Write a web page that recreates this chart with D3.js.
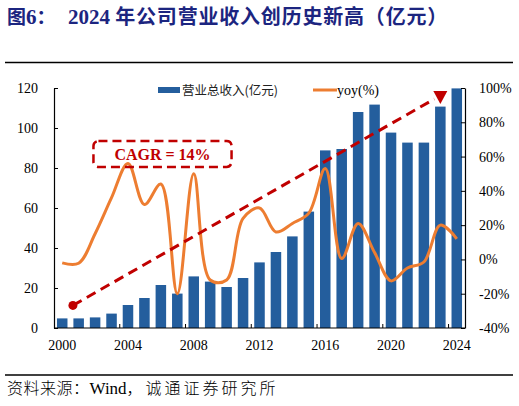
<!DOCTYPE html>
<html>
<head>
<meta charset="utf-8">
<script src="https://cdn.jsdelivr.net/npm/d3@7"></script>
<style>
  body { margin: 0; background: #fff; }
  svg { display: block; }
</style>
</head>
<body>
<div id="chart"></div>
<script>
// data
var years = d3.range(2000, 2025);
var revenue = [4.8, 4.8, 5.3, 7.2, 11.5, 15, 21.5, 17.2, 25.8, 23.2, 20.5, 25, 32.8,
               38, 45.8, 58.2, 88.8, 89.5, 108, 111.7, 97.7, 92.7, 92.7, 110.7, 119.8];
var yoy = [-2, -2.2, 15, 36, 56, 32, 44, -20, 50, -12, -12, 24, 30,
           16, 21, 27, 53, 0.5, 21, 4, -12.5, -5, -1.5, 20, 12];
var leftTicks = [0, 20, 40, 60, 80, 100, 120];
var rightTicks = [-40, -20, 0, 20, 40, 60, 80, 100];
var yearLabels = [2000, 2004, 2008, 2012, 2016, 2020, 2024];
var trendYears = [2000.65, 2023];
var trendValues = [11.3, 116];
var cagrLabel = "CAGR = 14%";

var width = 519, height = 406;
var plotL = 54, plotR = 465, plotT = 88, plotB = 328;

var svg = d3.select("#chart").append("svg")
    .attr("width", width)
    .attr("height", height);

var serif = "'Liberation Serif', 'Times New Roman', serif";
var cjk = "'Noto Sans CJK SC', sans-serif";

//
// title + rules
//
var title = svg.append("text")
    .attr("x", 7).attr("y", 24)
    .attr("fill", "#1c2580")
    .attr("font-weight", "bold")
    .attr("font-size", 19);
title.append("tspan").attr("font-family", cjk).text("图");
title.append("tspan").attr("font-family", serif).attr("font-size", 21).text("6");
title.append("tspan").attr("font-family", cjk).text("：");
title.append("tspan").attr("x", 68).attr("font-family", serif).attr("font-size", 21).text("2024 ");
title.append("tspan").attr("font-family", cjk).attr("font-size", 20).attr("letter-spacing", 0.8)
    .text("年公司营业收入创历史新高（亿元）");

svg.append("line").attr("x1", 5).attr("x2", 513).attr("y1", 62.5).attr("y2", 62.5)
    .attr("stroke", "#000").attr("stroke-width", 1.5);
svg.append("line").attr("x1", 5).attr("x2", 513).attr("y1", 375).attr("y2", 375)
    .attr("stroke", "#000").attr("stroke-width", 1.5);

var src = svg.append("text").attr("x", 7).attr("y", 394)
    .attr("font-size", 16).attr("fill", "#000");
src.append("tspan").attr("font-family", cjk).attr("font-weight", 300).attr("letter-spacing", 0.5).text("资料来源：");
src.append("tspan").attr("font-family", serif).attr("font-size", 17).text("Wind");
src.append("tspan").attr("font-family", cjk).attr("font-weight", 300).attr("letter-spacing", 3).text("，诚通证券研究所");

//
// scales
//
var x = d3.scaleBand().domain(years).range([plotL, plotR]).paddingInner(0.36).paddingOuter(0.18);
var step = x.step();
var xc = function(yr) { return x(yr) + x.bandwidth() / 2; };
var xLin = d3.scaleLinear().domain([2000, 2024]).range([xc(2000), xc(2024)]);
var yL = d3.scaleLinear().domain([0, 120]).range([plotB, plotT]);
var yR = d3.scaleLinear().domain([-40, 100]).range([plotB, plotT]);

//
// bars
//
svg.append("g").selectAll("rect")
  .data(years)
  .enter()
  .append("rect")
  .attr("x", function(d) { return x(d); })
  .attr("width", x.bandwidth())
  .attr("y", function(d, i) { return yL(revenue[i]); })
  .attr("height", function(d, i) { return plotB - yL(revenue[i]); })
  .attr("fill", "#245e9d");

//
// axes
//
var axL = svg.append("g").attr("transform", "translate(" + plotL + ",0)")
    .call(d3.axisLeft(yL).tickValues(leftTicks).tickSizeInner(-4).tickSizeOuter(0).tickPadding(16));
var axR = svg.append("g").attr("transform", "translate(" + plotR + ",0)")
    .call(d3.axisRight(yR).tickValues(rightTicks).tickSizeInner(-4).tickSizeOuter(0).tickPadding(14)
      .tickFormat(function(d) { return d + "%"; }));
var axB = svg.append("g").attr("transform", "translate(0," + plotB + ")")
    .call(d3.axisBottom(x).tickValues(yearLabels).tickSize(0).tickPadding(12));
// category boundary ticks every 4 years
svg.append("g").selectAll("line")
  .data([2004, 2008, 2012, 2016, 2020, 2024])
  .enter()
  .append("line")
  .attr("x1", function(d) { return x(d) - (step - x.bandwidth()) / 2; })
  .attr("x2", function(d) { return x(d) - (step - x.bandwidth()) / 2; })
  .attr("y1", plotB).attr("y2", plotB - 4)
  .attr("stroke", "#000");

[axL, axR, axB].forEach(function(a) {
  a.selectAll("path").attr("stroke", "#000").attr("stroke-width", 1.2);
  a.selectAll("line").attr("stroke", "#000");
  a.selectAll("text").attr("font-family", serif).attr("font-size", 14).attr("fill", "#000");
});
axB.select("path").attr("d", "M" + plotL + ",0H" + plotR);

//
// yoy line
//
var line = d3.line()
    .x(function(d, i) { return xc(years[i]); })
    .y(function(d) { return yR(d); })
    .curve(d3.curveCatmullRom.alpha(0.5));
svg.append("path")
    .datum(yoy)
    .attr("d", line)
    .attr("fill", "none")
    .attr("stroke", "#ed7d31")
    .attr("stroke-width", 3);

//
// trend arrow + CAGR box
//
var red = "#c00000";
var tx0 = xLin(trendYears[0]), ty0 = yL(trendValues[0]);
var tx1 = xLin(trendYears[1]), ty1 = yL(trendValues[1]);
svg.append("line")
    .attr("x1", tx0).attr("y1", ty0).attr("x2", tx1 - 6).attr("y2", ty1 + 3)
    .attr("stroke", red).attr("stroke-width", 3).attr("stroke-dasharray", "10,6");
svg.append("circle").attr("cx", tx0).attr("cy", ty0).attr("r", 4.5).attr("fill", red);
svg.append("path")
    .attr("d", "M" + (tx1 - 7) + "," + (ty1 - 5) + "L" + (tx1 + 7) + "," + (ty1 - 5) + "L" + tx1 + "," + (ty1 + 8) + "Z")
    .attr("fill", red);

var bx = xLin(2001.9), bw = xLin(2010.3) - bx;
var by = yL(93.5), bh = yL(80.5) - by;
svg.append("rect")
    .attr("x", bx).attr("y", by).attr("width", bw).attr("height", bh)
    .attr("rx", 5).attr("fill", "none")
    .attr("stroke", red).attr("stroke-width", 2.5).attr("stroke-dasharray", "9,5");
svg.append("text")
    .attr("x", bx + bw / 2).attr("y", by + bh / 2 + 5.5)
    .attr("text-anchor", "middle")
    .attr("font-family", serif).attr("font-weight", "bold").attr("font-size", 16)
    .attr("fill", red)
    .text(cagrLabel);

//
// legend
//
var lg = svg.append("g");
lg.append("rect").attr("x", 158).attr("y", 87).attr("width", 22).attr("height", 6).attr("fill", "#245e9d");
lg.append("text").attr("x", 182).attr("y", 95).attr("font-family", cjk).attr("font-size", 12.5)
  .attr("fill", "#222").text("营业总收入(亿元)");
lg.append("line").attr("x1", 313).attr("x2", 337).attr("y1", 90).attr("y2", 90)
  .attr("stroke", "#ed7d31").attr("stroke-width", 3);
lg.append("text").attr("x", 337).attr("y", 95).attr("font-family", serif).attr("font-size", 14)
  .attr("fill", "#000").text("yoy(%)");
</script>
</body>
</html>
